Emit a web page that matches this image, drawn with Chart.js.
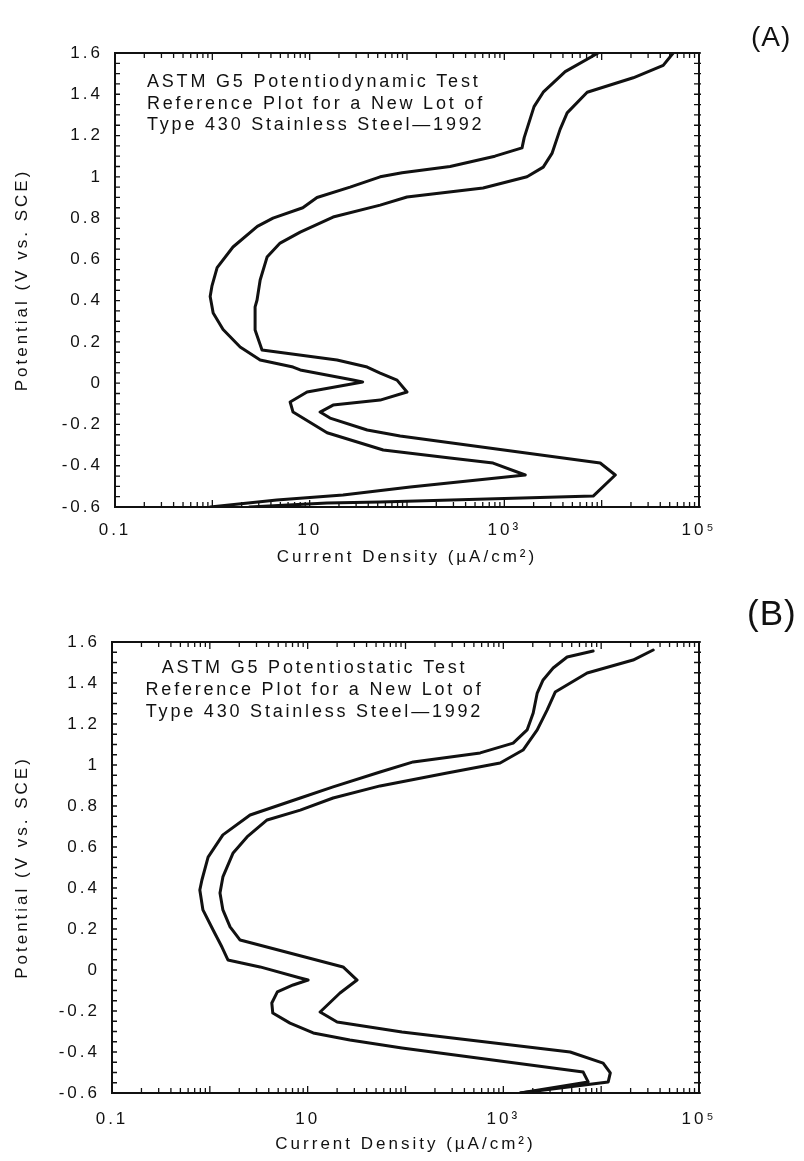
<!DOCTYPE html>
<html>
<head>
<meta charset="UTF-8">
<title>ASTM G5 Reference Plots - Type 430</title>
<style>
	body { margin: 0; background: #fff; }
	.page { position: relative; width: 804px; height: 1161px; }
	canvas { position: absolute; left: 0; }
	#chartA { top: 0; }
	#chartB { top: 580px; }
</style>
<script src="https://cdn.jsdelivr.net/npm/chart.js@4.4.1/dist/chart.umd.min.js"></script>
<script>
	// axis ticks
	var potentialTicks = [-0.6, -0.4, -0.2, 0, 0.2, 0.4, 0.6, 0.8, 1, 1.2, 1.4, 1.6];
	var potentialTickLabels = ['-0.6', '-0.4', '-0.2', '0', '0.2', '0.4', '0.6', '0.8', '1', '1.2', '1.4', '1.6'];
	var currentTicks = [0.1, 10, 1000, 100000];
	var currentTickLabels = ['0.1', '10', '10\u00b3', '10\u2075'];

	// (A) potentiodynamic band: current (uA/cm2) and potential (V vs SCE)
	var aLowI = [9200, 4220, 2510, 2020, 1600, 1520, 800, 277, 89, 53, 26, 11.9, 8.5, 4.2, 2.9, 1.63, 1.12, 0.99, 0.95, 1.02,
		1.29, 1.93, 3.1, 6.75, 8.0, 27.9, 35, 9.4, 6.3, 6.75, 15.1, 57, 277, 767, 1640, 108, 22, 4.6, 0.95];
	var aLowE = [1.6, 1.51, 1.41, 1.34, 1.19, 1.14, 1.10, 1.05, 1.02, 1.0, 0.95, 0.90, 0.85, 0.80, 0.76, 0.66, 0.56, 0.47, 0.42, 0.34,
		0.26, 0.175, 0.112, 0.078, 0.064, 0.015, 0.006, -0.043, -0.091, -0.14, -0.24, -0.324, -0.363, -0.387, -0.445, -0.503, -0.542, -0.566, -0.6];
	var aHighI = [54300, 42900, 21100, 7100, 4420, 3740, 3100, 2510, 1710, 605, 100, 53, 17.4, 8.0, 4.97, 3.65, 3.1, 2.88, 2.75,
		2.75, 3.24, 19.1, 39, 53, 79, 100, 53, 17.4, 12.8, 16.2, 39, 85, 9660, 13800, 8180, 53, 15.1, 2.4];
	var aHighE = [1.6, 1.54, 1.48, 1.41, 1.31, 1.23, 1.115, 1.047, 1.0, 0.946, 0.902, 0.863, 0.805, 0.732, 0.679, 0.611, 0.5, 0.403, 0.37,
		0.258, 0.161, 0.112, 0.078, 0.049, 0.015, -0.043, -0.082, -0.106, -0.14, -0.169, -0.227, -0.256, -0.387, -0.445, -0.547, -0.576, -0.581, -0.6];

	// (B) potentiostatic band
	var bLowI = [8280, 4490, 3230, 2550, 2220, 2020, 1750, 1260, 580, 120, 55, 18.2, 8.4, 2.58, 1.36, 0.96, 0.83, 0.79, 0.85, 1.08,
		1.33, 1.53, 3.26, 8.4, 10.1, 7.1, 4.9, 4.3, 4.4, 6.6, 11.4, 27, 92, 6550, 7360, 1490];
	var bLowE = [1.556, 1.527, 1.473, 1.415, 1.351, 1.254, 1.171, 1.107, 1.059, 1.015, 0.966, 0.893, 0.839, 0.756, 0.659, 0.551, 0.439, 0.39, 0.293, 0.195,
		0.112, 0.049, 0.015, -0.039, -0.049, -0.073, -0.107, -0.161, -0.21, -0.259, -0.307, -0.341, -0.38, -0.498, -0.546, -0.6];
	var bHighI = [34000, 21200, 7190, 3390, 2800, 2220, 1590, 927, 266, 55, 18.2, 8.4, 3.85, 2.4, 1.73, 1.36, 1.27, 1.36, 1.61, 2.04,
		23, 32, 21.4, 13.4, 20, 92, 4820, 10470, 12400, 11800, 1490];
	var bHighE = [1.561, 1.512, 1.449, 1.356, 1.268, 1.171, 1.073, 1.01, 0.961, 0.898, 0.839, 0.78, 0.732, 0.649, 0.571, 0.454, 0.376, 0.293, 0.21, 0.146,
		0.015, -0.049, -0.112, -0.205, -0.254, -0.302, -0.40, -0.454, -0.502, -0.546, -0.6];

	var FONT = '"Liberation Sans", Arial, Helvetica, sans-serif';
	var INK = '#111';
</script>
</head>

<body>
<div class="page">
	<canvas id="chartA" width="804" height="580"></canvas>
	<canvas id="chartB" width="804" height="581"></canvas>
</div>

<script>
	function pairs(xs, ys) {
		return xs.map(function(v, i) { return {x: v, y: ys[i]}; });
	}

	// frame, inward ticks, caption text and panel tag
	var platePlugin = {
		id: 'plate',
		beforeDraw: function(chart) {
			chart.ctx.letterSpacing = '3px';
		},
		afterDraw: function(chart, args, opts) {
			var ctx = chart.ctx, a = chart.chartArea;
			var xs = chart.scales.x, ys = chart.scales.y;
			ctx.save();
			ctx.strokeStyle = INK;
			ctx.lineWidth = 2;
			ctx.strokeRect(a.left, a.top, a.right - a.left, a.bottom - a.top);

			ctx.lineWidth = 1.3;
			ctx.beginPath();
			for (var k = 0; k <= 44; k++) {
				var py = ys.getPixelForValue(-0.6 + k * 0.05);
				ctx.moveTo(a.left, py); ctx.lineTo(a.left + 5, py);
				ctx.moveTo(a.right - 5, py); ctx.lineTo(a.right + 2, py);
			}
			for (var e = -1; e < 5; e++) {
				for (var m = 1; m < 10; m++) {
					var px = xs.getPixelForValue(m * Math.pow(10, e));
					var len = (m == 1) ? 7 : 5;
					ctx.moveTo(px, a.bottom); ctx.lineTo(px, a.bottom - len);
					ctx.moveTo(px, a.top); ctx.lineTo(px, a.top + len);
				}
			}
			ctx.stroke();

			ctx.fillStyle = INK;
			ctx.font = '18px ' + FONT;
			ctx.letterSpacing = '2.8px';
			ctx.textAlign = opts.align;
			ctx.textBaseline = 'alphabetic';
			opts.lines.forEach(function(t, i) {
				ctx.fillText(t, opts.x, opts.y + i * opts.dy);
			});

			ctx.font = opts.tagSize + 'px ' + FONT;
			ctx.letterSpacing = '1px';
			ctx.textAlign = 'left';
			ctx.fillText(opts.tag, opts.tagX, opts.tagY);
			ctx.restore();
		}
	};

	function makeChart(id, low, high, g, note) {
		var line = {
			showLine: true, pointRadius: 0, borderColor: INK, borderWidth: 3,
			borderJoinStyle: 'round', borderCapStyle: 'round', tension: 0, fill: false
		};
		var ctx = document.getElementById(id).getContext('2d');
		return new Chart(ctx, {
			type: 'scatter',
			data: {
				datasets: [
					Object.assign({label: 'lower bound', data: low}, line),
					Object.assign({label: 'upper bound', data: high}, line)
				]
			},
			options: {
				responsive: false,
				animation: false,
				devicePixelRatio: 1,
				layout: { padding: { left: 0, right: g.right, top: g.top, bottom: 0 } },
				plugins: {
					legend: { display: false },
					tooltip: { enabled: false },
					plate: note
				},
				scales: {
					x: {
						type: 'logarithmic',
						min: 0.1, max: 100000,
						afterBuildTicks: function(s) {
							s.ticks = currentTicks.map(function(v) { return {value: v}; });
						},
						afterFit: function(s) { s.height = g.xAxisH; },
						ticks: {
							autoSkip: false, maxRotation: 0, padding: g.xTickPad,
							color: INK, font: { family: FONT, size: 17 },
							callback: function(v, i) { return currentTickLabels[i]; }
						},
						grid: { display: false, drawTicks: false },
						border: { display: false },
						title: {
							display: true, text: 'Current Density (\u00b5A/cm\u00b2)', color: INK,
							font: { family: FONT, size: 17 }, padding: { top: 0, bottom: g.xTitlePad }
						}
					},
					y: {
						min: -0.6, max: 1.6,
						afterBuildTicks: function(s) {
							s.ticks = potentialTicks.map(function(v) { return {value: v}; });
						},
						afterFit: function(s) { s.width = g.yAxisW; },
						ticks: {
							padding: 12, color: INK, font: { family: FONT, size: 17 },
							callback: function(v, i) { return potentialTickLabels[i]; }
						},
						grid: { display: false, drawTicks: false },
						border: { display: false },
						title: {
							display: true, text: 'Potential (V vs. SCE)', color: INK,
							font: { family: FONT, size: 17 }, padding: { top: 12, bottom: 0 }
						}
					}
				}
			},
			plugins: [platePlugin]
		});
	}

	window.onload = function() {
		makeChart('chartA', pairs(aLowI, aLowE), pairs(aHighI, aHighE),
			{ yAxisW: 115, right: 105, top: 53, xAxisH: 73, xTickPad: 13, xTitlePad: 12 },
			{
				lines: ['ASTM G5 Potentiodynamic Test', 'Reference Plot for a New Lot of', 'Type 430 Stainless Steel\u20141992'],
				x: 147, y: 87, dy: 21.5, align: 'left',
				tag: '(A)', tagSize: 28, tagX: 751, tagY: 46
			});
		makeChart('chartB', pairs(bLowI, bLowE), pairs(bHighI, bHighE),
			{ yAxisW: 112, right: 105, top: 62, xAxisH: 68, xTickPad: 16, xTitlePad: 6 },
			{
				lines: ['ASTM G5 Potentiostatic Test', 'Reference Plot for a New Lot of', 'Type 430 Stainless Steel\u20141992'],
				x: 314.5, y: 93, dy: 22, align: 'center',
				tag: '(B)', tagSize: 35, tagX: 747, tagY: 45
			});
	};
</script>
</body>
</html>
